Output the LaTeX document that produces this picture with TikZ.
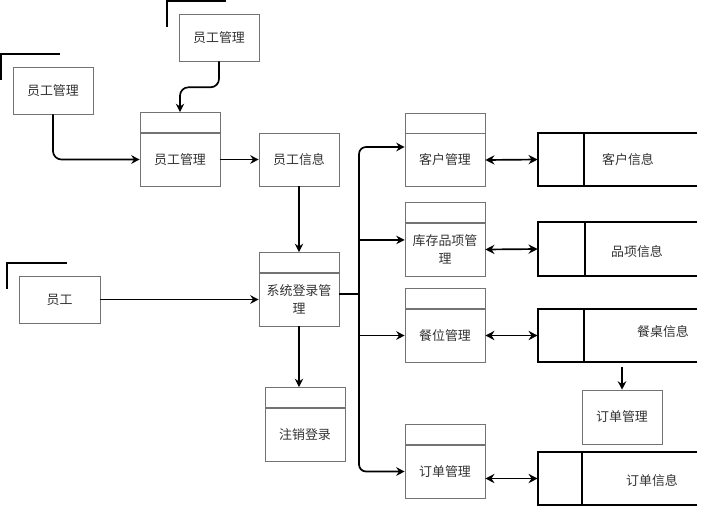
\documentclass[tikz,border=0pt]{standalone}
\usepackage{fontspec}
\newfontfamily\cjk{Noto Sans CJK SC}
\usetikzlibrary{arrows.meta,positioning}

\begin{document}
\begin{tikzpicture}[x=0.025cm, y=-0.025cm,
    >=Stealth,
    every node/.style={font=\cjk\fontsize{9.2}{12.5}\selectfont, text=black!80},
    ext/.style={draw=black!55, rectangle, minimum width=2cm, minimum height=1.175cm,
        align=center},
    proc/.style={draw=black!55, rectangle, minimum width=2cm, minimum height=1.325cm,
        align=center, inner sep=1pt},
    prochead/.style={draw=black!55, rectangle, minimum width=2cm, minimum height=0.5cm},
    store/.style={rectangle, minimum width=3.975cm, minimum height=1.325cm},
    storeline/.style={line width=1.4pt},
    corner/.style={line width=1.4pt},
    flow/.style={-{Stealth[length=6pt,width=6pt]}, line width=1.2pt},
    biflow/.style={{Stealth[length=6.5pt,width=6.5pt]}-{Stealth[length=6.5pt,width=6.5pt]}, line width=1.2pt}
]
\useasboundingbox (0,0) rectangle (703,507);

% external entities
\node[ext] (e1) at (219,37.5) {员工管理};
\node[ext] (e2) at (53,90.5) {员工管理};
\node[ext, minimum width=2.025cm] (staff) at (59.5,299.5) {员工};
\draw[corner] ([shift={(-12,13)}]e1.north west) -- ++(0,-26) -- ++(59,0);
\draw[corner] ([shift={(-12,13)}]e2.north west) -- ++(0,-26) -- ++(59,0);
\draw[corner] ([shift={(-12,13)}]staff.north west) -- ++(0,-26) -- ++(60,0);

% processes
\node[proc] (empmgr) at (180,159.5) {员工管理};
\node[prochead, above=0pt of empmgr] (empmgr-top) {};
\node[ext, minimum height=1.325cm] (empinfo) at (299,159.5) {员工信息};
\node[proc] (login) at (299,299.5) {系统登录管\\理};
\node[prochead, above=0pt of login] (login-top) {};
\node[proc] (logout) at (305,434.5) {注销登录};
\node[prochead, above=0pt of logout] (logout-top) {};

\node[proc] (cust) at (445,160) {客户管理};
\node[prochead, above=0pt of cust] (cust-top) {};
\node[proc] (stock) at (445,249.5) {库存品项管\\理};
\node[prochead, above=0pt of stock] (stock-top) {};
\node[proc] (table) at (445,335.5) {餐位管理};
\node[prochead, above=0pt of table] (table-top) {};
\node[proc] (ordmgr) at (445,471.5) {订单管理};
\node[prochead, above=0pt of ordmgr] (ordmgr-top) {};
\node[ext, minimum height=1.35cm] (ordbox) at (622,417) {订单管理};

% data stores
\node[store] (custinfo) at (617.5,159.5) {};
\node (custinfo-lbl) at (628,160) {客户信息};
\node[store] (stockinfo) at (617.5,249) {};
\node (stockinfo-lbl) at (637,252) {品项信息};
\node[store] (tableinfo) at (617.5,335.5) {};
\node (tableinfo-lbl) at (663,332) {餐桌信息};
\node[store] (ordinfo) at (617.5,478.5) {};
\node (ordinfo-lbl) at (652,481) {订单信息};

\draw[storeline] (custinfo.north east) -- (custinfo.north west) -- (custinfo.south west) -- (custinfo.south east);
\draw[storeline] ([xshift=1.15cm]custinfo.north west) -- ([xshift=1.15cm]custinfo.south west);
\draw[storeline] (stockinfo.north east) -- (stockinfo.north west) -- (stockinfo.south west) -- (stockinfo.south east);
\draw[storeline] ([xshift=1.175cm]stockinfo.north west) -- ([xshift=1.175cm]stockinfo.south west);
\draw[storeline] (tableinfo.north east) -- (tableinfo.north west) -- (tableinfo.south west) -- (tableinfo.south east);
\draw[storeline] ([xshift=1.15cm]tableinfo.north west) -- ([xshift=1.15cm]tableinfo.south west);
\draw[storeline] (ordinfo.north east) -- (ordinfo.north west) -- (ordinfo.south west) -- (ordinfo.south east);
\draw[storeline] ([xshift=1.1cm]ordinfo.north west) -- ([xshift=1.1cm]ordinfo.south west);

% flows
\draw[flow, rounded corners=6pt] (e1.south) -- ++(0,26) -| (empmgr-top.north);
\draw[flow, rounded corners=6pt] (e2.south) |- (empmgr.west);
\draw[flow] (empmgr.east) -- (empinfo.west);
\draw[flow] (empinfo.south) -- (login-top.north);
\draw[flow] (staff.east) -- (login.west);
\draw[flow] (login.south) -- (login.south |- logout-top.north);

\coordinate (bus) at (359,294);
\draw[line width=1.2pt] (login.east |- bus) -- (bus);
\draw[flow, rounded corners=5pt] (bus) |- ([yshift=0.325cm]cust.west);
\draw[flow] (bus |- stock.west) ++(0,-9.5) -- ([yshift=0.24cm]stock.west);
\draw[flow] (bus |- table.west) -- (table.west);
\draw[flow, rounded corners=5pt] (bus) |- (ordmgr.west);

\draw[biflow] (cust.east) -- (custinfo.west);
\draw[biflow] (stock.east) -- (stockinfo.west);
\draw[biflow] (table.east) -- (tableinfo.west);
\draw[biflow] (ordmgr.east |- ordinfo.west) -- (ordinfo.west);
\draw[flow, shorten <=3pt] (ordbox.north |- tableinfo.south) -- (ordbox.north);
\end{tikzpicture}
\end{document}
